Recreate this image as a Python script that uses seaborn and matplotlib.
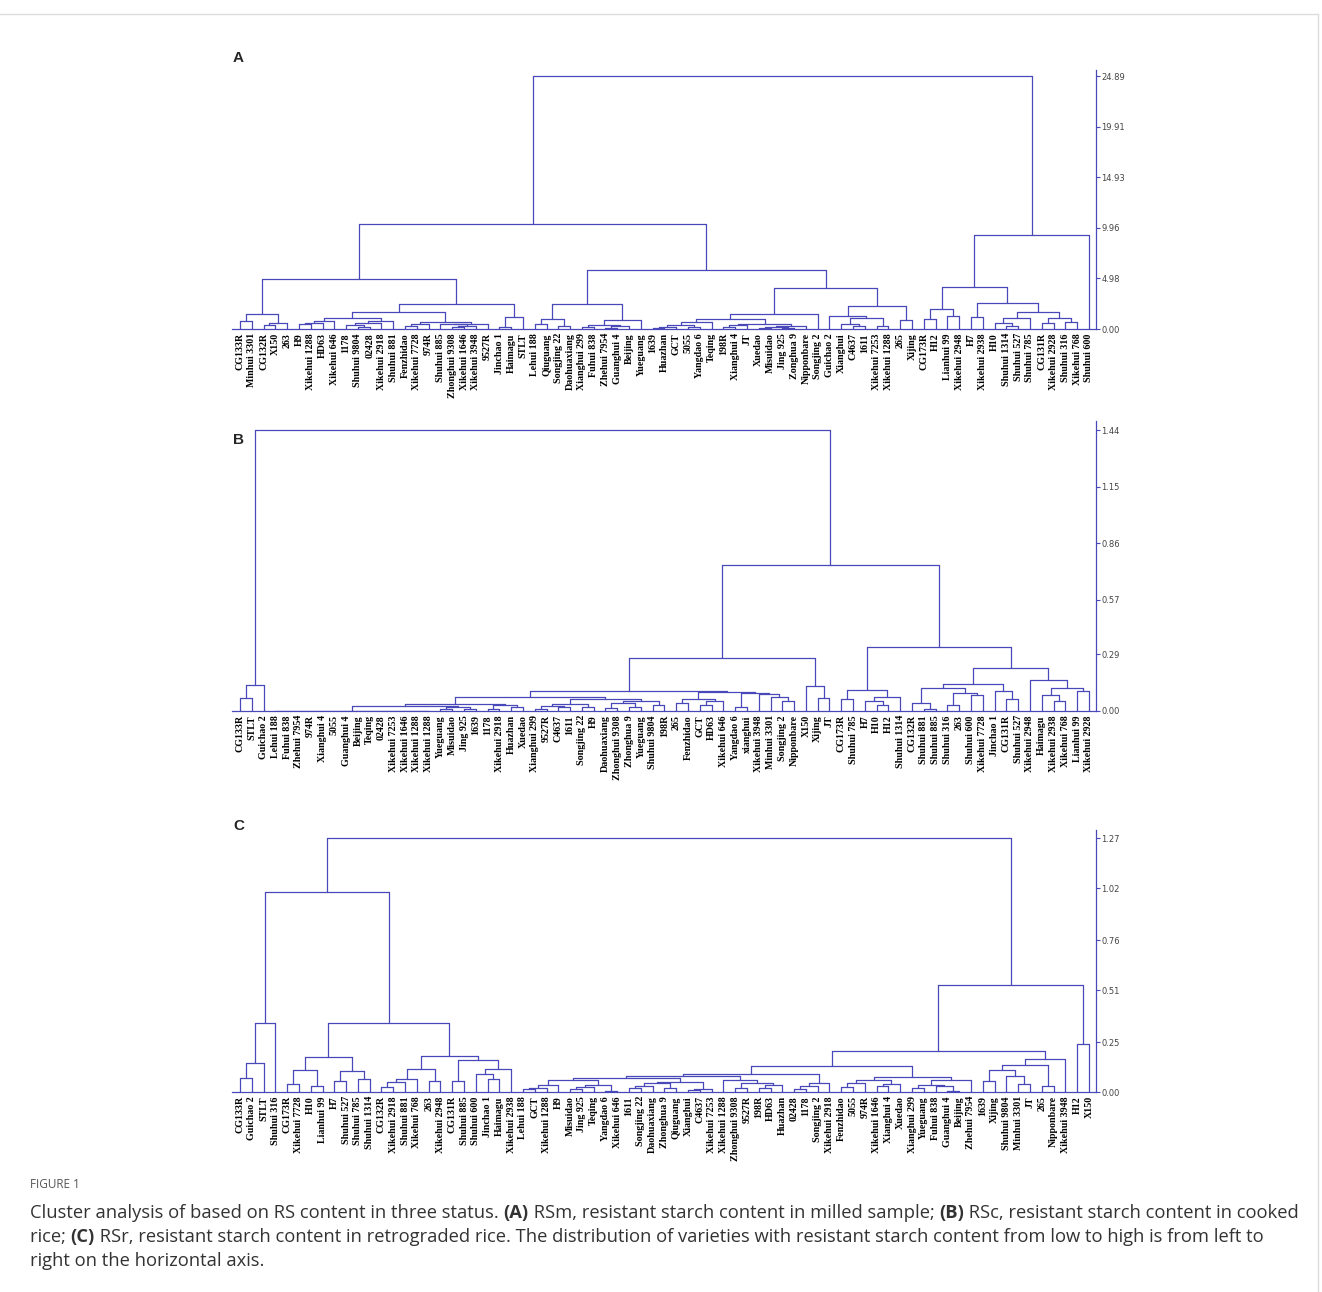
import matplotlib
matplotlib.use("Agg")
import matplotlib.pyplot as plt
import seaborn as sns
import pandas as pd
from matplotlib.lines import Line2D

# leaf order (left to right) of each dendrogram
labels_a = ["CG133R", "Minhui 3301", "CG132R", "X150", "263", "H9", "Xikehui 1288", "HD63",
            "Xikehui 646", "1178", "Shuhui 9804", "02428", "Xikehui 2918", "Shuhui 881", "Fenzhidao",
            "Xikehui 7728", "974R", "Shuhui 885", "Zhonghui 9308", "Xikehui 1646", "Xikehui 3948",
            "9527R", "Jinchao 1", "Haimagu", "STLT", "Lehui 188", "Qiuguang", "Songjing 22",
            "Daohuaxiang", "Xianghui 299", "Fuhui 838", "Zhehui 7954", "Guanghui 4", "Beijing",
            "Yueguang", "1639", "Huazhan", "GCT", "5055", "Yangdao 6", "Teqing", "198R", "Xianghui 4",
            "JT", "Xuedao", "Misuidao", "Jing 925", "Zonghua 9", "Nipponbare", "Songjing 2", "Guichao 2",
            "Xianghui", "C4637", "1611", "Xikehui 7253", "Xikehui 1288", "265", "Xijing", "CG173R", "H12",
            "Lianhui 99", "Xikehui 2948", "H7", "Xikehui 2938", "H10", "Shuhui 1314", "Shuhui 527",
            "Shuhui 785", "CG131R", "Xikehui 2928", "Shuhui 316", "Xikehui 768", "Shuhui 600"]

labels_b = ["CG133R", "STLT", "Guichao 2", "Lehui 188", "Fuhui 838", "Zhehui 7954", "974R",
            "Xianghui 4", "5055", "Guanghui 4", "Beijing", "Teqing", "02428", "Xikehui 7253",
            "Xikehui 1646", "Xikehui 1288", "Xikehui 1288", "Yueguang", "Misuidao", "Jing 925", "1639",
            "1178", "Xikehui 2918", "Huazhan", "Xuedao", "Xianghui 299", "9527R", "C4637", "1611",
            "Songjing 22", "H9", "Daohuaxiang", "Zhonghui 9308", "Zhonghua 9", "Yueguang", "Shuhui 9804",
            "198R", "265", "Fenzhidao", "GCT", "HD63", "Xikehui 646", "Yangdao 6", "xianghui",
            "Xikehui 3948", "Minhui 3301", "Songjing 2", "Nipponbare", "X150", "Xijing", "JT", "CG173R",
            "Shuhui 785", "H7", "H10", "H12", "Shuhui 1314", "CG132R", "Shuhui 881", "Shuhui 885",
            "Shuhui 316", "263", "Shuhui 600", "Xikehui 7728", "Jinchao 1", "CG131R", "Shuhui 527",
            "Xikehui 2948", "Haimagu", "Xikehui 2938", "Xikehui 768", "Lianhui 99", "Xikehui 2928"]

labels_c = ["CG133R", "Guichao 2", "STLT", "Shuhui 316", "CG173R", "Xikehui 7728", "H10", "Lianhui 99",
            "H7", "Shuhui 527", "Shuhui 785", "Shuhui 1314", "CG132R", "Xikehui 2918", "Shuhui 881",
            "Xikehui 768", "263", "Xikehui 2948", "CG131R", "Shuhui 885", "Shuhui 600", "Jinchao 1",
            "Haimagu", "Xikehui 2938", "Lehui 188", "GCT", "Xikehui 1288", "H9", "Misuidao", "Jing 925",
            "Teqing", "Yangdao 6", "Xikehui 646", "1611", "Songjing 22", "Daohuaxiang", "Zhonghua 9",
            "Qiuguang", "Xianghui", "C4637", "Xikehui 7253", "Xikehui 1288", "Zhonghui 9308", "9527R",
            "198R", "HD63", "Huazhan", "02428", "1178", "Songjing 2", "Xikehui 2918", "Fenzhidao",
            "5055", "974R", "Xikehui 1646", "Xianghui 4", "Xuedao", "Xianghui 299", "Yueguang",
            "Fuhui 838", "Guanghui 4", "Beijing", "Zhehui 7954", "1639", "Xijing", "Shuhui 9804",
            "Minhui 3301", "JT", "265", "Nipponbare", "Xikehui 3948", "H12", "X150"]

# merge trees: "(child,child)height", leaves = index in label list
a1 = "((0,1)0.82,((2,3)0.35,4)0.55)1.48"
a2 = "((((5,6)0.45,7)0.6,8)0.8,(((9,(10,11)0.15)0.4,12)0.6,13)0.82)1.1"
a3 = "(((14,15)0.3,16)0.5,((17,((18,19)0.15,20)0.3)0.45,21)0.54)0.69"
a4 = "((22,23)0.2,24)1.2"
a5 = "(((25,26)0.5,(27,28)0.3)0.99,(((29,30)0.15,((31,32)0.1,33)0.25)0.4,34)0.85)2.47"
a6 = "((((35,36)0.08,37)0.15,(38,39)0.2)0.4,40)0.67"
a7 = "(((41,42)0.2,43)0.35,(((44,45)0.1,(46,47)0.12)0.2,48)0.3)0.54"
a8 = "((50,((51,(52,53)0.3)0.47,(54,55)0.33)1.06)1.3,(56,57)0.86)2.3"
a9 = ("(((58,59)0.98,(60,61)1.3)1.94,((62,63)1.2,(((64,(65,66)0.26)0.56,67)1.06,"
      "((68,69)0.56,(70,71)0.7)1.13)1.7)2.6)4.12")
a_left = f"({a1},(({a2},{a3})1.7,{a4})2.47)4.94"
a_mid = f"({a5},((({a6},{a7})0.99,49)1.48,{a8})4.05)5.83"
tree_a = f"(({a_left},{a_mid})10.3,({a9},72)9.26)24.89"

b0 = "((0,1)0.067,2)0.135"
b1 = "((3,4,5,6,7,8,9,10,11,12,13,14,15,16)0.002,((17,18)0.01,(19,20)0.012)0.02)0.025"
b2 = "((21,22)0.01,(23,24)0.02)0.03"
b3 = "(((25,26)0.01,(27,28)0.02)0.025,(29,30)0.02)0.035"
b4 = "(((31,32)0.015,(33,34)0.02)0.04,(35,36)0.03)0.05"
b5 = ("(((37,38)0.04,((39,40)0.03,41)0.05)0.06,"
      "((42,43)0.02,(44,(45,(46,47)0.05)0.07)0.085)0.09)0.095")
b6 = "((51,52)0.06,((53,(54,55)0.03)0.05,56)0.07)0.11"
b7 = "(((57,(58,59)0.01)0.04,((60,61)0.03,(62,63)0.08)0.09)0.12,(64,(65,66)0.06)0.1)0.14"
b8 = "(67,((68,(69,70)0.05)0.08,(71,72)0.1)0.12)0.16"
b_low = f"(((({b1},{b2})0.035,({b3},{b4})0.06)0.07,{b5})0.1,(48,(49,50)0.067)0.13)0.27"
tree_b = f"({b0},({b_low},({b6},({b7},{b8})0.22)0.33)0.75)1.44"

c0 = "(((0,1)0.072,2)0.144,3)0.345"
c1 = "(((4,5)0.04,(6,7)0.03)0.11,((8,9)0.055,(10,11)0.067)0.105)0.176"
c2 = ("(((((12,13)0.025,14)0.05,15)0.064,(16,17)0.055)0.114,"
      "((18,19)0.055,((20,(21,22)0.064)0.089,23)0.114)0.159)0.179")
c3 = ("(((((24,25)0.013,26)0.02,27)0.033,(((28,29)0.017,30)0.025,(31,32)0.005)0.035)0.058,"
      "((((33,34)0.02,35)0.03,(36,37)0.02)0.045,((38,39)0.01,40)0.015)0.05)0.07")
c4 = "(41,((42,43)0.02,((44,45)0.02,46)0.035)0.045)0.06"
c5 = "(((47,48)0.015,49)0.03,50)0.045"
c6 = "(((51,52)0.025,53)0.045,((54,55)0.03,56)0.04)0.059"
c7 = "(((57,58)0.02,(59,(60,61)0.005)0.03)0.035,62)0.06"
c8 = "((((63,64)0.055,(65,(66,67)0.04)0.08)0.109,(68,69)0.03)0.136,70)0.164"
c_left = f"({c0},({c1},{c2})0.343)1.0"
c_right = f"(((({c3},{c4})0.08,{c5})0.089,({c6},{c7})0.075)0.131,{c8})0.206"
tree_c = f"({c_left},({c_right},(71,72)0.24)0.536)1.27"

ticks_a = [0.00, 4.98, 9.96, 14.93, 19.91, 24.89]
ticks_b = [0.00, 0.29, 0.57, 0.86, 1.15, 1.44]
ticks_c = [0.00, 0.25, 0.51, 0.76, 1.02, 1.27]

LINE = "#4848b8"
W, H = 1322, 1292


def parse(s):
    pos = 0

    def node():
        nonlocal pos
        if s[pos] == "(":
            pos += 1
            kids = [node()]
            while s[pos] == ",":
                pos += 1
                kids.append(node())
            pos += 1
            start = pos
            while pos < len(s) and s[pos] not in ",)":
                pos += 1
            return (float(s[start:pos]), kids)
        start = pos
        while s[pos] not in ",)":
            pos += 1
        return int(s[start:pos])

    return node()


def segments(tree):
    segs = []

    def walk(t):
        if isinstance(t, int):
            return float(t), 0.0
        h, kids = t
        pts = [walk(k) for k in kids]
        for x, y in pts:
            segs.append([(x, y), (x, h)])
        segs.append([(pts[0][0], h), (pts[-1][0], h)])
        return (pts[0][0] + pts[-1][0]) / 2, h

    walk(tree)
    rows = [dict(seg=i, x=p[0], y=p[1]) for i, s in enumerate(segs) for p in s]
    return pd.DataFrame(rows)


sns.set_theme(style="white")
plt.rcParams["font.family"] = ["DejaVu Sans"]

fig = plt.figure(figsize=(W / 100, H / 100), dpi=100)


def panel(tree, labels, ticks, y_zero, y_top, px_per_unit, letter, letter_y):
    left, right = 232, 1096
    ax = fig.add_axes([left / W, (H - y_zero) / H, (right - left) / W, (y_zero - y_top) / H])
    df = segments(parse(tree))
    sns.lineplot(data=df, x="x", y="y", units="seg", estimator=None, sort=False,
                 color=LINE, lw=0.9, legend=False, ax=ax)
    ax.set_xlim(-(240 - left) / 11.79, (right - 240) / 11.79)
    ax.set_ylim(0, (y_zero - y_top) / px_per_unit)
    ax.set_xlabel("")
    ax.set_ylabel("")
    ax.set_xticks(range(len(labels)))
    ax.set_xticklabels(labels, rotation=90, fontsize=7.2, fontweight="bold",
                       family=["Liberation Serif", "DejaVu Serif"])
    ax.tick_params(axis="x", length=0, pad=3, colors="black")
    ax.yaxis.tick_right()
    ax.set_yticks(ticks)
    ax.set_yticklabels([f"{t:.2f}" for t in ticks])
    ax.tick_params(axis="y", direction="out", length=3, width=0.8, color=LINE,
                   labelsize=6, labelcolor="#444444", pad=1)
    for side in ["left", "top"]:
        ax.spines[side].set_visible(False)
    for side in ["bottom", "right"]:
        ax.spines[side].set_color(LINE)
        ax.spines[side].set_linewidth(0.9)
    ax.grid(False)
    fig.text(233 / W, 1 - letter_y / H, letter, fontsize=11, fontweight="bold",
             family="Liberation Sans", va="center", ha="left")
    return ax


panel(tree_a, labels_a, ticks_a, 329, 70, (329 - 76) / 24.89, "A", 58)
panel(tree_b, labels_b, ticks_b, 711, 421, (711 - 430) / 1.44, "B", 440)
panel(tree_c, labels_c, ticks_c, 1092, 830, (1092 - 838) / 1.27, "C", 826)

# page frame
fig.add_artist(Line2D([0, 1318 / W], [1 - 14 / H, 1 - 14 / H], color="#dddddd", lw=1))
fig.add_artist(Line2D([1318 / W, 1318 / W], [1 - 14 / H, 0], color="#dddddd", lw=1))

# caption
fig.text(30 / W, 1 - 1185 / H, "FIGURE 1", fontsize=8.5, color="#555555",
         family="Open Sans", va="center")

caption = [
    [("Cluster analysis of based on RS content in three status. ", "normal"), ("(A)", "bold"),
     (" RSm, resistant starch content in milled sample; ", "normal"), ("(B)", "bold"),
     (" RSc, resistant starch content in cooked", "normal")],
    [("rice; ", "normal"), ("(C)", "bold"),
     (" RSr, resistant starch content in retrograded rice. The distribution of varieties with "
      "resistant starch content from low to high is from left to", "normal")],
    [("right on the horizontal axis.", "normal")],
]
renderer = fig.canvas.get_renderer()


def width_of(txt, size, weight):
    t1 = fig.text(0, 0, txt + "|", fontsize=size, fontweight=weight, family="Open Sans")
    t2 = fig.text(0, 0, "|", fontsize=size, fontweight=weight, family="Open Sans")
    w = t1.get_window_extent(renderer).width - t2.get_window_extent(renderer).width
    t1.remove()
    t2.remove()
    return w


size = 11
w1 = sum(width_of(t, size, wt) for t, wt in caption[0])
size = size * 1270 / w1

for i, line in enumerate(caption):
    x = 30
    y = 1213 + 24 * i
    for txt, wt in line:
        fig.text(x / W, 1 - y / H, txt, fontsize=size, fontweight=wt, color="#333333",
                 family="Open Sans", va="center", ha="left")
        x += width_of(txt, size, wt)

fig.savefig("out.png", dpi=100, facecolor="white")
